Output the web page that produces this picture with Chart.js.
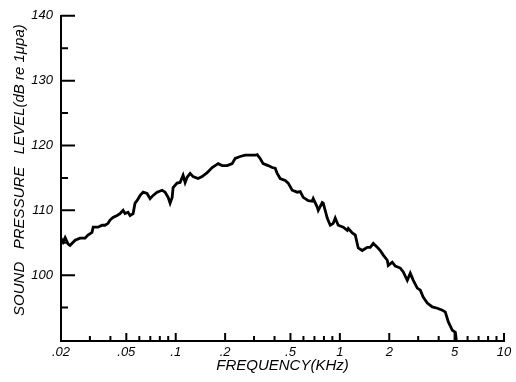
<!DOCTYPE html>
<html>
<head>
<meta charset="utf-8">
<script src="https://cdn.jsdelivr.net/npm/chart.js@4.4.0/dist/chart.umd.min.js"></script>
<style>
  html, body { margin: 0; padding: 0; background: #fff; }
  #wrap { width: 516px; height: 382px; }
</style>
</head>
<body>
<div id="wrap"><canvas id="spl"></canvas></div>
<script>
// frequency (kHz) and level (dB re 1 uPa)
var freqs = [0.0200, 0.0206, 0.0212, 0.0221, 0.0227, 0.0244, 0.0261, 0.0280, 0.0292, 0.0309,
    0.0314, 0.0336, 0.0356, 0.0371, 0.0387, 0.0398, 0.0415, 0.0439, 0.0458, 0.0478,
    0.0491, 0.0512, 0.0527, 0.0550, 0.0565, 0.0581, 0.0607, 0.0633, 0.0669, 0.0698,
    0.0728, 0.0770, 0.0826, 0.0862, 0.0899, 0.0924, 0.0951, 0.0964, 0.1019, 0.1063,
    0.1109, 0.1141, 0.1173, 0.1224, 0.1276, 0.1369, 0.1448, 0.1554, 0.1667, 0.1738,
    0.1813, 0.1918, 0.2057, 0.2207, 0.2302, 0.2469, 0.2649, 0.2921, 0.3047, 0.3134,
    0.3268, 0.3409, 0.3657, 0.3868, 0.4035, 0.4150, 0.4329, 0.4644, 0.4844, 0.5124,
    0.5498, 0.5734, 0.5981, 0.6417, 0.6787, 0.6883, 0.7280, 0.7383, 0.7809, 0.7919,
    0.8376, 0.8737, 0.9113, 0.9372, 0.9775, 1.049, 1.109, 1.125, 1.190, 1.241,
    1.294, 1.369, 1.468, 1.532, 1.598, 1.690, 1.763, 1.839, 1.945, 1.972,
    2.086, 2.176, 2.334, 2.434, 2.575, 2.686, 2.801, 2.963, 3.091, 3.224,
    3.410, 3.657, 3.925, 4.210, 4.391, 4.580, 4.844, 5.053, 5.124];
var levels = [105.7, 105.1, 105.8, 104.8, 104.6, 105.4, 105.7, 105.7, 106.2, 106.6,
    107.4, 107.4, 107.7, 107.7, 108.0, 108.5, 108.9, 109.2, 109.5, 110.0,
    109.5, 109.7, 109.2, 109.5, 111.1, 111.5, 112.3, 112.8, 112.6, 111.8,
    112.3, 112.8, 113.1, 112.8, 112.0, 111.1, 112.0, 113.5, 114.2, 114.3,
    115.4, 114.3, 115.1, 115.7, 115.2, 114.9, 115.2, 115.8, 116.6, 116.9,
    117.2, 116.9, 116.9, 117.2, 118.0, 118.3, 118.5, 118.5, 118.5, 118.6,
    118.0, 117.2, 116.9, 116.6, 116.5, 115.7, 114.9, 114.6, 114.2, 113.1,
    112.8, 112.9, 112.0, 111.5, 111.4, 111.8, 110.5, 110.0, 111.2, 111.1,
    108.8, 107.7, 108.0, 108.8, 107.7, 107.4, 106.9, 107.2, 106.5, 106.2,
    104.2, 103.8, 104.3, 104.3, 104.9, 104.3, 103.8, 103.1, 102.3, 101.5,
    102.0, 101.4, 101.1, 100.5, 99.2, 100.3, 99.2, 98.0, 97.7, 96.6,
    95.7, 95.1, 94.9, 94.6, 94.3, 92.8, 91.5, 91.2, 90.0];

var xTickValues = [0.02, 0.05, 0.1, 0.2, 0.5, 1, 2, 5, 10];
var xTickLabels = ['.02', '.05', '.1', '.2', '.5', '1', '2', '5', '10'];
var xMinorTicks = [0.03, 0.04, 0.06, 0.07, 0.08, 0.09, 0.3, 0.4, 0.6, 0.7, 0.8, 0.9,
    3, 4, 6, 7, 8, 9];
var yTickValues = [100, 110, 120, 130, 140];
var yMinorTicks = [95, 105, 115, 125, 135];

var tickFont = { family: 'Liberation Sans', style: 'italic', size: 13 };
var titleFont = { family: 'Liberation Sans', style: 'italic', size: 15 };

// tick marks pointing into the plot, like the original drawing
var inwardTicks = {
    id: 'inwardTicks',
    afterDraw: function (chart) {
        var ctx = chart.ctx;
        var x = chart.scales.x, y = chart.scales.y;
        var left = chart.chartArea.left, bottom = chart.chartArea.bottom;
        ctx.save();
        ctx.strokeStyle = '#000';
        ctx.lineWidth = 2;
        ctx.beginPath();
        yTickValues.forEach(function (v) {
            var py = y.getPixelForValue(v);
            ctx.moveTo(left, py); ctx.lineTo(left + 14, py);
        });
        yMinorTicks.forEach(function (v) {
            var py = y.getPixelForValue(v);
            ctx.moveTo(left, py); ctx.lineTo(left + 7, py);
        });
        xTickValues.forEach(function (v) {
            var px = x.getPixelForValue(v);
            ctx.moveTo(px, bottom); ctx.lineTo(px, bottom - 8);
        });
        xMinorTicks.forEach(function (v) {
            var px = x.getPixelForValue(v);
            ctx.moveTo(px, bottom); ctx.lineTo(px, bottom - 5);
        });
        ctx.stroke();
        ctx.restore();
    }
};

var ctx = document.getElementById('spl').getContext('2d');
var splChart = new Chart(ctx, {
    type: 'line',
    data: {
        datasets: [{
            data: freqs.map(function (f, i) { return { x: f, y: levels[i] }; }),
            borderColor: '#000',
            borderWidth: 2.8,
            pointRadius: 0,
            tension: 0,
            fill: false
        }]
    },
    options: {
        responsive: true,
        maintainAspectRatio: false,
        animation: false,
        layout: { padding: { top: 15, right: 12, left: 0, bottom: 0 } },
        plugins: { legend: { display: false }, tooltip: { enabled: false } },
        scales: {
            x: {
                type: 'logarithmic',
                min: 0.02,
                max: 10,
                afterBuildTicks: function (s) {
                    s.ticks = xTickValues.map(function (v) { return { value: v }; });
                },
                afterFit: function (s) { s.height = 41; },
                ticks: {
                    autoSkip: false,
                    maxRotation: 0,
                    padding: 4,
                    color: '#000',
                    font: tickFont,
                    callback: function (v, i) { return xTickLabels[i]; }
                },
                grid: { display: true, drawOnChartArea: false, drawTicks: false },
                border: { display: true, color: '#000', width: 2 },
                title: {
                    display: true,
                    text: 'FREQUENCY(KHz)',
                    color: '#000',
                    font: titleFont,
                    padding: { top: 0, bottom: 7 }
                }
            },
            y: {
                type: 'linear',
                min: 89.85,
                max: 140,
                afterBuildTicks: function (s) {
                    s.ticks = yTickValues.map(function (v) { return { value: v }; });
                },
                afterFit: function (s) { s.width = 61; },
                ticks: {
                    padding: 8,
                    color: '#000',
                    font: tickFont
                },
                grid: { display: true, drawOnChartArea: false, drawTicks: false },
                border: { display: true, color: '#000', width: 2 },
                title: {
                    display: true,
                    text: '    SOUND   PRESSURE   LEVEL(dB re 1\u03bcpa)',
                    color: '#000',
                    font: titleFont,
                    padding: { top: 11, bottom: 0 }
                }
            }
        }
    },
    plugins: [inwardTicks]
});
</script>
</body>
</html>
